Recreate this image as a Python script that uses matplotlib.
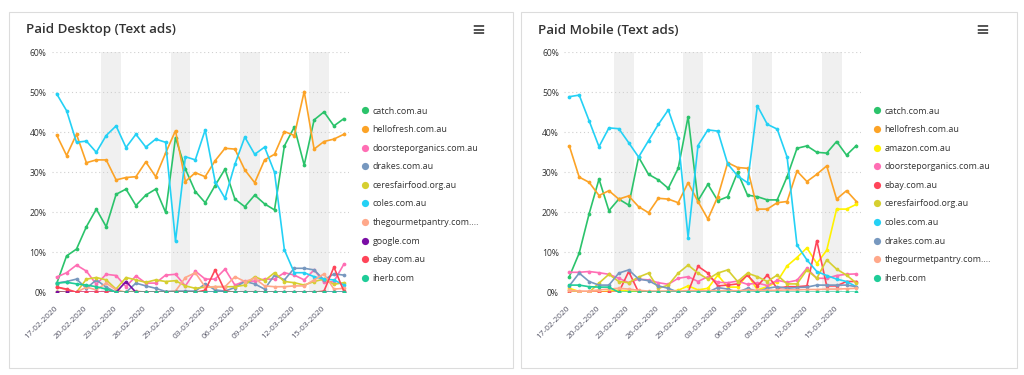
import matplotlib
matplotlib.use('Agg')
import matplotlib.pyplot as plt
from matplotlib.lines import Line2D
from matplotlib.patches import Rectangle
import pandas as pd

plt.rcParams['font.family'] = ['Open Sans', 'DejaVu Sans']

# ---------------- data ----------------
dates = pd.date_range('2020-02-17', '2020-03-17', freq='D')
date_labels = [d.strftime('%d-%m-%Y') for d in dates]
tick_idx = list(range(0, len(dates), 3))
weekend_idx = [i for i, d in enumerate(dates) if d.dayofweek == 5]  # Saturdays (band covers Sat+Sun)

desktop_title = 'Paid Desktop (Text ads)'
mobile_title = 'Paid Mobile (Text ads)'

# Desktop series (percent)
d_catch = [2.2, 9.1, 10.8, 16.4, 20.8, 16.4, 24.5, 25.8, 21.7, 24.3, 25.8, 20.0, 38.7, 30.8, 25.2,
           22.4, 26.7, 30.8, 23.3, 21.4, 24.3, 22.1, 20.6, 36.6, 41.3, 31.8, 43.1, 45.1, 41.6, 43.4]
d_hellofresh = [39.3, 34.2, 39.5, 32.4, 33.1, 33.1, 28.1, 28.7, 28.9, 32.6, 28.9, 34.8, 40.4, 27.7, 29.9,
                28.9, 32.9, 36.0, 35.8, 30.6, 27.4, 33.1, 34.5, 40.2, 39.2, 50.2, 35.8, 37.7, 38.3, 39.5]
d_doorstep = [3.8, 4.9, 6.8, 5.3, 2.0, 4.5, 4.2, 1.4, 4.1, 2.3, 2.3, 4.3, 4.5, 1.6, 5.3,
              3.3, 3.3, 5.8, 1.8, 2.8, 2.8, 3.3, 3.3, 4.9, 4.3, 3.1, 5.6, 2.5, 2.7, 7.0]
d_drakes = [2.3, 2.7, 3.3, 1.0, 3.1, 1.3, 0.0, 0.0, 2.3, 1.6, 1.0, 0.2, 0.3, 0.3, 0.3,
            2.1, 0.6, 0.3, 1.2, 2.7, 2.1, 0.8, 4.3, 3.1, 6.0, 6.0, 5.6, 3.1, 4.6, 4.3]
d_ceres = [0.2, 0.0, 0.0, 3.3, 3.7, 3.1, 0.8, 3.7, 3.1, 2.5, 3.1, 2.7, 2.9, 1.6, 1.0,
           1.3, 1.4, 1.4, 1.4, 1.8, 3.9, 2.9, 4.9, 2.7, 2.4, 1.8, 2.7, 3.3, 2.0, 2.4]
d_coles = [49.6, 45.4, 37.5, 37.8, 35.0, 39.2, 41.6, 36.2, 39.5, 36.3, 38.3, 37.5, 12.8, 33.9, 33.1,
           40.6, 27.7, 23.5, 32.0, 38.8, 34.5, 36.3, 30.0, 10.6, 4.9, 4.9, 3.9, 3.3, 3.1, 1.8]
d_gourmet = [1.4, 0.6, 0.0, 1.3, 0.6, 2.3, 0.6, 0.0, 0.3, 0.0, 0.0, 0.0, 0.3, 3.7, 4.9,
             1.3, 1.4, 1.4, 3.9, 2.7, 3.5, 1.6, 1.4, 1.4, 1.6, 1.6, 3.1, 4.6, 0.8, 1.0]
d_google = [0.0, 0.0, 0.0, 0.0, 0.0, 0.0, 0.0, 2.7, 0.0, 0.0, 0.0, 0.0, 0.0, 0.0, 0.0,
            0.0, 0.0, 0.0, 0.0, 0.0, 0.0, 0.0, 0.0, 0.0, 0.0, 0.0, 0.0, 0.0, 0.0, 0.0]
d_ebay = [1.3, 0.8, 0.0, 0.0, 0.0, 0.0, 0.0, 0.0, 0.0, 0.0, 0.0, 0.0, 0.0, 0.0, 0.0,
          0.5, 5.6, 0.3, 0.0, 0.0, 0.0, 0.0, 0.0, 0.0, 0.0, 0.0, 0.0, 0.3, 6.3, 0.3]
d_iherb = [2.3, 2.5, 2.1, 1.8, 1.4, 0.8, 0.0, 0.0, 0.0, 0.0, 0.0, 0.0, 0.0, 0.0, 0.0,
           0.0, 0.0, 0.0, 0.0, 0.0, 0.0, 0.0, 0.0, 0.0, 0.0, 0.0, 0.0, 0.0, 0.0, 0.0]

# Mobile series (percent)
m_catch = [3.9, 9.8, 19.6, 28.3, 20.4, 23.3, 21.8, 33.8, 29.5, 28.1, 26.0, 31.0, 43.9, 22.9, 27.0,
           22.9, 23.9, 30.0, 24.3, 23.9, 23.1, 23.1, 28.9, 36.0, 36.6, 35.0, 34.8, 37.7, 34.3, 36.7]
m_hellofresh = [36.6, 28.8, 27.5, 24.2, 25.4, 23.3, 24.1, 21.4, 19.9, 23.5, 23.3, 22.4, 27.4, 22.7, 18.3,
                23.9, 32.4, 31.2, 31.0, 20.8, 20.8, 22.4, 22.7, 30.3, 27.7, 29.5, 31.6, 23.3, 25.4, 22.7]
m_amazon = [1.0, 0.2, 0.0, 0.0, 0.3, 0.5, 0.3, 0.2, 0.0, 0.0, 0.2, 0.5, 1.6, 0.6, 1.0,
            4.3, 1.3, 1.3, 4.5, 0.6, 1.4, 2.7, 6.6, 8.7, 11.1, 7.2, 10.5, 20.8, 20.8, 22.0]
m_doorstep = [5.0, 5.0, 5.2, 4.9, 4.5, 3.5, 2.4, 3.3, 3.1, 2.4, 2.0, 3.5, 3.9, 2.7, 3.9,
              2.5, 2.4, 2.8, 2.0, 2.3, 1.7, 3.0, 2.5, 3.0, 6.0, 3.5, 3.5, 4.2, 4.5, 4.6]
m_ebay = [0.0, 0.0, 0.0, 0.0, 0.0, 0.0, 5.2, 0.0, 0.0, 0.0, 0.0, 0.0, 0.0, 6.5, 4.8,
          1.6, 1.8, 2.1, 4.3, 1.6, 4.3, 1.0, 1.4, 1.4, 1.6, 12.9, 1.6, 1.6, 2.7, 2.7]
m_ceres = [0.6, 0.0, 0.0, 2.3, 4.5, 2.7, 2.4, 3.8, 4.8, 1.0, 1.8, 4.8, 6.8, 4.8, 3.3,
           4.8, 5.6, 2.7, 4.8, 3.9, 2.7, 4.3, 2.1, 2.1, 5.6, 3.5, 8.1, 5.8, 4.3, 2.3]
m_coles = [48.9, 49.3, 42.9, 36.4, 41.1, 40.9, 37.4, 33.8, 37.9, 42.0, 45.6, 38.5, 13.7, 36.7, 40.6,
           40.3, 32.1, 29.1, 27.4, 46.6, 42.0, 40.8, 33.8, 11.8, 8.1, 5.2, 4.2, 3.3, 2.7, 1.4]
m_drakes = [1.6, 4.8, 2.7, 1.8, 1.8, 4.8, 5.6, 3.3, 2.9, 1.6, 1.0, 0.0, 0.0, 0.0, 0.0,
            1.2, 0.8, 0.0, 1.0, 0.2, 1.0, 1.4, 1.0, 1.2, 1.3, 1.8, 1.8, 1.8, 1.8, 1.4]
m_gourmet = [0.5, 0.3, 0.3, 0.6, 0.8, 1.0, 0.8, 0.5, 0.3, 0.3, 0.3, 0.3, 0.4, 0.4, 0.4,
             0.4, 0.4, 0.4, 0.5, 0.5, 0.5, 0.5, 0.6, 0.6, 0.7, 0.7, 0.8, 0.8, 0.9, 1.0]
m_iherb = [1.8, 1.8, 1.4, 1.3, 1.3, 0.0, 0.0, 0.0, 0.0, 0.0, 0.0, 0.0, 0.0, 0.0, 0.0,
           0.0, 0.0, 0.0, 0.0, 0.0, 0.0, 0.0, 0.0, 0.0, 0.0, 0.0, 0.0, 0.0, 0.0, 0.0]

colors = {
    'catch.com.au': '#2bc36b',
    'hellofresh.com.au': '#fca326',
    'amazon.com.au': '#fff200',
    'doorsteporganics.com.au': '#ff6eb4',
    'drakes.com.au': '#7798bf',
    'ceresfairfood.org.au': '#d6cf30',
    'coles.com.au': '#24d1f5',
    'thegourmetpantry.com....': '#ffa88a',
    'google.com': '#7a0ea5',
    'ebay.com.au': '#ff4559',
    'iherb.com': '#1fcc98',
}

desktop_series = [
    ('catch.com.au', d_catch),
    ('hellofresh.com.au', d_hellofresh),
    ('doorsteporganics.com.au', d_doorstep),
    ('drakes.com.au', d_drakes),
    ('ceresfairfood.org.au', d_ceres),
    ('coles.com.au', d_coles),
    ('thegourmetpantry.com....', d_gourmet),
    ('google.com', d_google),
    ('ebay.com.au', d_ebay),
    ('iherb.com', d_iherb),
]
mobile_series = [
    ('catch.com.au', m_catch),
    ('hellofresh.com.au', m_hellofresh),
    ('amazon.com.au', m_amazon),
    ('doorsteporganics.com.au', m_doorstep),
    ('ebay.com.au', m_ebay),
    ('ceresfairfood.org.au', m_ceres),
    ('coles.com.au', m_coles),
    ('drakes.com.au', m_drakes),
    ('thegourmetpantry.com....', m_gourmet),
    ('iherb.com', m_iherb),
]
y_ticks = [0, 10, 20, 30, 40, 50, 60]

# ---------------- layout ----------------
W, H = 1024, 375
fig = plt.figure(figsize=(W / 100, H / 100), dpi=100)
fig.patch.set_facecolor('white')


def fx(px):
    return px / W


def fy(py):
    return 1 - py / H


def panel(card_x0, card_x1, ax_left_px, title, series, legend_x_px):
    # card
    fig.add_artist(Rectangle((fx(card_x0), fy(368)), fx(card_x1 - card_x0), (368 - 12) / H,
                             transform=fig.transFigure, facecolor='white',
                             edgecolor='#dcdcdc', lw=0.8, zorder=0))
    fig.text(fx(card_x0 + 17), fy(30), title, fontsize=9.6, color='#333333',
             fontweight='semibold', va='center', ha='left')
    fig.text(fx(card_x1 - 35), fy(30), '\u2261', fontsize=12, color='#555555',
             va='center', ha='center', family='DejaVu Sans', fontweight='bold')

    ax = fig.add_axes([fx(ax_left_px), fy(292.3), 297 / W, 240 / H])
    ax.set_facecolor('none')
    n = len(dates)
    x = list(range(n))
    for s in weekend_idx:
        ax.axvspan(s - 0.5, s + 1.5, color='#f0f0f0', lw=0, zorder=0)
    for name, vals in series:
        ax.plot(x, vals, color=colors[name], lw=1.2, marker='o', markersize=2.7,
                markeredgewidth=0, zorder=3)
    ax.set_xlim(-0.5, n - 0.5)
    ax.set_ylim(0, 60)
    ax.set_yticks(y_ticks)
    ax.set_yticklabels([f'{v}%' for v in y_ticks], fontsize=6.2, color='#333333')
    ax.set_xticks(tick_idx)
    ax.set_xticklabels([date_labels[i] for i in tick_idx], rotation=45, ha='right',
                       va='center', rotation_mode='anchor', fontsize=6, color='#555566')
    ax.tick_params(axis='both', length=0)
    ax.tick_params(axis='y', pad=4)
    ax.tick_params(axis='x', pad=11)
    ax.grid(axis='y', linestyle=(0, (1, 2.5)), color='#d0d0d0', lw=0.8, zorder=1)
    ax.set_axisbelow(True)
    for sp in ax.spines.values():
        sp.set_visible(False)

    handles = [Line2D([], [], marker='o', linestyle='none', markersize=5.2,
                      markerfacecolor=colors[nm], markeredgewidth=0) for nm, _ in series]
    labels = [nm for nm, _ in series]
    leg = ax.legend(handles, labels, loc='upper left',
                    bbox_to_anchor=(fx(legend_x_px), fy(106.5)), bbox_transform=fig.transFigure,
                    frameon=False, fontsize=6.4, labelspacing=1.08, handlelength=0.9,
                    handletextpad=0.4, borderpad=0, borderaxespad=0)
    for t in leg.get_texts():
        t.set_color('#333333')
    return ax


panel(9, 513, 51.75, desktop_title, desktop_series, 361)
panel(521, 1017, 564.35, mobile_title, mobile_series, 873)

fig.savefig('out.png', dpi=100, facecolor='white')
